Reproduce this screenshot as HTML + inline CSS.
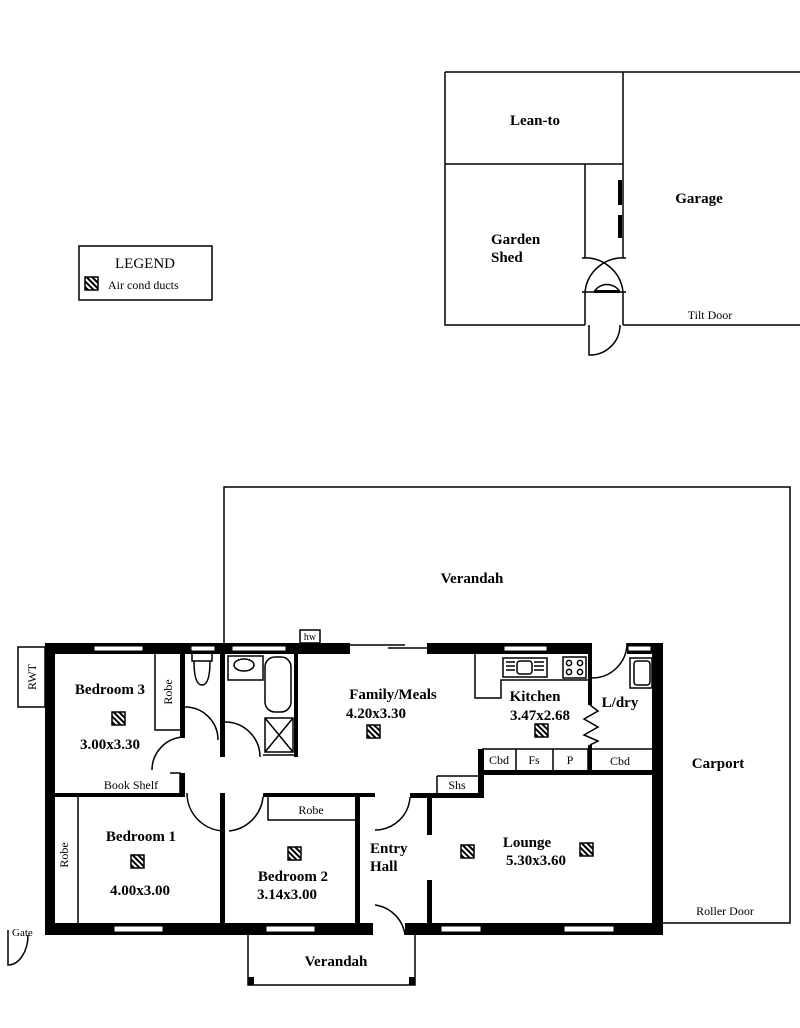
<!DOCTYPE html>
<html><head><meta charset="utf-8"><style>
html,body{margin:0;padding:0;background:#fff}
svg{display:block}
text{font-family:"Liberation Serif",serif;fill:#000}
.b{font-weight:bold;font-size:15px}
.s{font-size:12px}
</style></head><body>
<svg width="800" height="1028" viewBox="0 0 800 1028" xmlns="http://www.w3.org/2000/svg">
<defs>
<pattern id="h" width="4" height="4" patternUnits="userSpaceOnUse" patternTransform="rotate(-45)">
<rect width="4" height="4" fill="#fff"/><rect width="2" height="4" fill="#000"/></pattern>
<g id="ic"><rect x="0" y="0" width="13" height="13" fill="url(#h)" stroke="#000" stroke-width="1.5"/></g>
</defs>
<g fill="none" stroke="#000" stroke-width="1.5">
<!-- outbuilding -->
<path d="M445,72 H800 M445,72 V325 H585 M623,325 H800 M445,164 H623 M623,72 V258 M623,292 V325 M585,164 V258 M585,292 V325"/>
<path d="M582,258 A38,38 0 0 1 623,292 M626,258 A38,38 0 0 0 585,292 M594,292 A15,15 0 0 1 620,292 M582,292 H626"/>
<path d="M589,325 V355 A30,30 0 0 0 620,325"/>
<!-- verandah/carport -->
<path d="M224,643 V487 H790 V923 H663"/>
<path d="M248,935 V985 H415 V935"/>
<!-- legend -->
<rect x="79" y="246" width="133" height="54"/>
<!-- RWT -->
<rect x="18" y="647" width="27" height="60"/>
<rect x="300" y="630" width="20" height="13"/>
<!-- gate -->
<path d="M8,930 V965 A20,30 0 0 0 28,935"/>
<!-- sliding door -->
<path d="M350,645 H405 M388,648 H427"/>
<!-- thin interior -->
<path d="M155,653 V730 H180 M170,773 H180 V793 M78,797 V923 M268,797 V820 H355 M263,755 H298"/>
<rect x="265" y="657" width="26" height="55" rx="10"/>
<path d="M265,718 H293 V752 H265 Z M265,718 L293,752 M293,718 L265,752"/>
<rect x="228" y="656" width="35" height="24"/>
<ellipse cx="244" cy="665" rx="10" ry="6"/>
<path d="M192,653 V661 H212 V653 M194,661 Q194,685 202,685 Q210,685 210,661"/>
<!-- doors -->
<path d="M152,770 A33,33 0 0 1 185,737 M185,707 A33,33 0 0 1 218,740 M225,722 A35,35 0 0 1 260,757 M187,793 A38,38 0 0 0 225,831 M263,797 A38,38 0 0 1 229,831 M375,830 A35,35 0 0 0 410,797 M375,905 A35,35 0 0 1 405,935 M592,678 A35,35 0 0 0 627,643"/>
<!-- kitchen -->
<path d="M475,653 V698 H501 V680 H588"/>
<rect x="503" y="658" width="44" height="19"/><rect x="517" y="661" width="15" height="13" rx="3"/>
<path d="M506,662 H515 M506,666 H515 M506,670 H515 M534,662 H544 M534,666 H544 M534,670 H544"/>
<rect x="563" y="657" width="23" height="21"/>
<circle cx="569" cy="663" r="2.6"/><circle cx="580" cy="663" r="2.6"/><circle cx="569" cy="672" r="2.6"/><circle cx="580" cy="672" r="2.6"/>
<rect x="630" y="658" width="22" height="30"/><rect x="634" y="661" width="16" height="24" rx="3"/>
<path d="M482,749 H588 V770 M482,749 V770 M516,749 V770 M553,749 V770 M592,749 H652 M437,776 H480 M437,776 V793"/>
<path d="M590,705 L598,711 L584,719 L598,727 L584,735 L598,741 L590,745"/>
</g>
<!-- thick walls -->
<g fill="#000">
<rect x="45" y="643" width="305" height="11"/>
<rect x="427" y="643" width="165" height="11"/>
<rect x="627" y="643" width="36" height="11"/>
<rect x="652" y="643" width="11" height="292"/>
<rect x="45" y="643" width="10" height="292"/>
<rect x="45" y="923" width="328" height="12"/>
<rect x="405" y="923" width="258" height="12"/>
<rect x="180" y="653" width="5" height="85"/>
<rect x="180" y="773" width="5" height="24"/>
<rect x="55" y="793" width="130" height="4"/>
<rect x="220" y="653" width="5" height="104"/>
<rect x="220" y="793" width="5" height="132"/>
<rect x="294" y="653" width="4" height="104"/>
<rect x="263" y="793" width="112" height="4"/>
<rect x="355" y="793" width="5" height="132"/>
<rect x="410" y="793" width="74" height="5"/>
<rect x="427" y="793" width="5" height="42"/>
<rect x="427" y="880" width="5" height="45"/>
<rect x="478" y="749" width="6" height="48"/>
<rect x="478" y="770" width="174" height="5"/>
<rect x="588" y="653" width="4" height="52"/>
<rect x="588" y="745" width="4" height="28"/>
<rect x="618" y="180" width="4" height="25"/>
<rect x="618" y="215" width="4" height="23"/>
<rect x="594" y="290" width="26" height="3"/>
<rect x="248" y="977" width="6" height="8"/>
<rect x="409" y="977" width="6" height="8"/>
</g>
<!-- windows -->
<g fill="#fff" stroke="#000" stroke-width="1">
<rect x="94" y="646" width="49" height="5"/><rect x="191" y="646" width="24" height="5"/><rect x="232" y="646" width="54" height="5"/><rect x="504" y="646" width="43" height="5"/><rect x="628" y="646" width="23" height="5"/>
<rect x="114" y="926" width="49" height="6"/><rect x="266" y="926" width="49" height="6"/><rect x="441" y="926" width="40" height="6"/><rect x="564" y="926" width="50" height="6"/>
</g>
<!-- icons -->
<use href="#ic" x="85" y="277"/><use href="#ic" x="112" y="712"/><use href="#ic" x="131" y="855"/><use href="#ic" x="288" y="847"/><use href="#ic" x="367" y="725"/><use href="#ic" x="535" y="724"/><use href="#ic" x="461" y="845"/><use href="#ic" x="580" y="843"/>
<!-- labels -->
<text x="145" y="268" text-anchor="middle" font-size="15">LEGEND</text>
<text x="108" y="289" class="s" font-size="13">Air cond ducts</text>
<text x="535" y="125" class="b" text-anchor="middle">Lean-to</text>
<text x="699" y="203" class="b" text-anchor="middle">Garage</text>
<text x="491" y="244" class="b">Garden</text><text x="491" y="262" class="b">Shed</text>
<text x="710" y="319" class="s" text-anchor="middle">Tilt Door</text>
<text x="472" y="583" class="b" text-anchor="middle">Verandah</text>
<text x="718" y="768" class="b" text-anchor="middle">Carport</text>
<text x="725" y="915" class="s" text-anchor="middle">Roller Door</text>
<text x="336" y="966" class="b" text-anchor="middle">Verandah</text>
<text x="12" y="936" font-size="11">Gate</text>
<text transform="translate(36,677) rotate(-90)" class="s" text-anchor="middle">RWT</text>
<text x="310" y="640" font-size="10" text-anchor="middle">hw</text>
<text x="110" y="694" class="b" text-anchor="middle">Bedroom 3</text>
<text x="110" y="749" class="b" text-anchor="middle">3.00x3.30</text>
<text transform="translate(172,692) rotate(-90)" class="s" text-anchor="middle">Robe</text>
<text x="131" y="789" class="s" text-anchor="middle">Book Shelf</text>
<text x="141" y="841" class="b" text-anchor="middle">Bedroom 1</text>
<text x="140" y="895" class="b" text-anchor="middle">4.00x3.00</text>
<text transform="translate(68,855) rotate(-90)" class="s" text-anchor="middle">Robe</text>
<text x="311" y="814" class="s" text-anchor="middle">Robe</text>
<text x="293" y="881" class="b" text-anchor="middle">Bedroom 2</text>
<text x="287" y="899" class="b" text-anchor="middle">3.14x3.00</text>
<text x="393" y="699" class="b" text-anchor="middle">Family/Meals</text>
<text x="376" y="718" class="b" text-anchor="middle">4.20x3.30</text>
<text x="535" y="701" class="b" text-anchor="middle">Kitchen</text>
<text x="540" y="720" class="b" text-anchor="middle">3.47x2.68</text>
<text x="620" y="707" class="b" text-anchor="middle">L/dry</text>
<text x="499" y="764" class="s" text-anchor="middle">Cbd</text>
<text x="534" y="764" class="s" text-anchor="middle">Fs</text>
<text x="570" y="764" class="s" text-anchor="middle">P</text>
<text x="620" y="765" class="s" text-anchor="middle">Cbd</text>
<text x="457" y="789" class="s" text-anchor="middle">Shs</text>
<text x="370" y="853" class="b">Entry</text><text x="370" y="871" class="b">Hall</text>
<text x="527" y="847" class="b" text-anchor="middle">Lounge</text>
<text x="536" y="865" class="b" text-anchor="middle">5.30x3.60</text>
</svg>
</body></html>
